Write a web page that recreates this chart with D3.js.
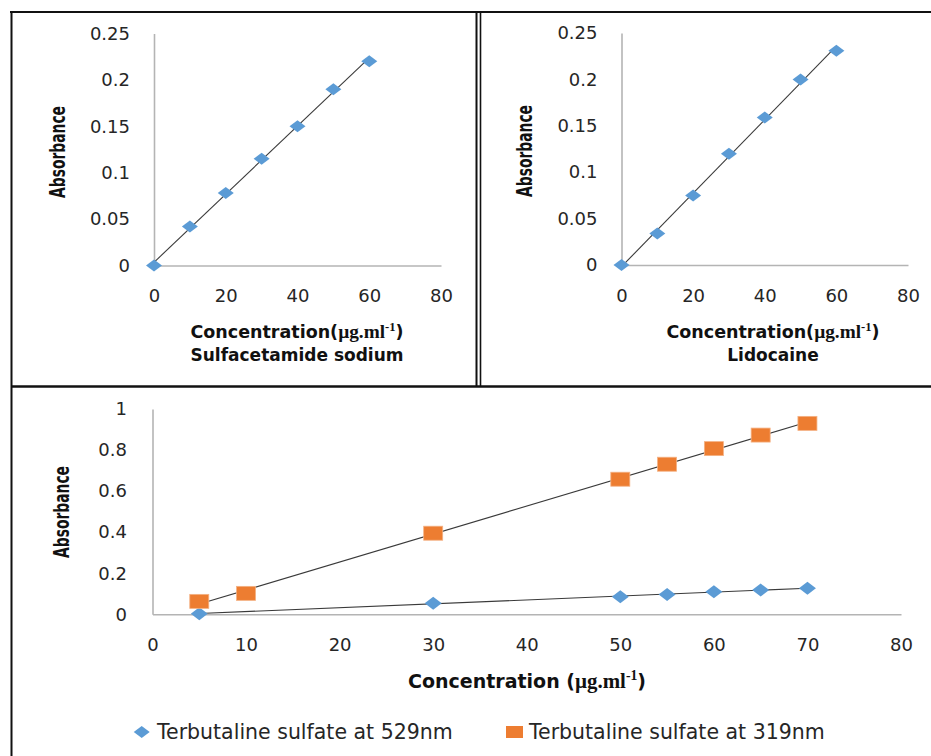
<!DOCTYPE html>
<html><head><meta charset="utf-8">
<script src="https://cdn.jsdelivr.net/npm/d3@7"></script>
<style>body{margin:0;background:#fff} svg{display:block}</style>
</head><body>
<script>
// ---- data ----
const saConc = [0, 10, 20, 30, 40, 50, 60];
const saAbs = [0, 0.042, 0.078, 0.115, 0.150, 0.190, 0.220];
const lidoConc = [0, 10, 20, 30, 40, 50, 60];
const lidoAbs = [0, 0.034, 0.075, 0.120, 0.159, 0.200, 0.231];
const terb529Conc = [5, 30, 50, 55, 60, 65, 70];
const terb529Abs = [0.003, 0.054, 0.086, 0.097, 0.110, 0.118, 0.127];
const terb319Conc = [5, 10, 30, 50, 55, 60, 65, 70];
const terb319Abs = [0.063, 0.102, 0.395, 0.658, 0.731, 0.807, 0.873, 0.930];
const topYTicks = [0, 0.05, 0.1, 0.15, 0.2, 0.25];
const topXTicks = [0, 20, 40, 60, 80];
const botYTicks = [0, 0.2, 0.4, 0.6, 0.8, 1];
const botXTicks = [0, 10, 20, 30, 40, 50, 60, 70, 80];
const panelTitles = ["Sulfacetamide sodium", "Lidocaine"];
const legendLabels = ["Terbutaline sulfate at 529nm", "Terbutaline sulfate at 319nm"];
const yTitle = "Absorbance";

const BLUE = "#5B9BD5", ORANGE = "#ED7D31", AXIS = "#B4B4B4", TEXT = "#262626";

const W = 931, H = 756;
const svg = d3.select("body").append("svg").attr("width", W).attr("height", H);
svg.append("rect").attr("width", W).attr("height", H).attr("fill", "#fff");

function regress(xs, ys) {
  const mx = d3.mean(xs), my = d3.mean(ys);
  let sxy = 0, sxx = 0;
  xs.forEach((x, i) => { sxy += (x - mx) * (ys[i] - my); sxx += (x - mx) * (x - mx); });
  const m = sxy / sxx;
  return { m, b: my - m * mx };
}

function diamond(g, x, y, xs, ys, w, h) {
  g.selectAll(null).data(xs).enter().append("path")
    .attr("d", (d, i) => {
      const cx = x(d), cy = y(ys[i]);
      return `M${cx - w / 2},${cy}L${cx},${cy - h / 2}L${cx + w / 2},${cy}L${cx},${cy + h / 2}Z`;
    })
    .attr("fill", BLUE);
}
function squares(g, x, y, xs, ys, w, h) {
  g.selectAll(null).data(xs).enter().append("rect")
    .attr("x", d => x(d) - w / 2).attr("y", (d, i) => y(ys[i]) - h / 2)
    .attr("width", w).attr("height", h)
    .attr("fill", ORANGE).attr("stroke", "#F4B183").attr("stroke-width", 0.8);
}
function trend(g, x, y, xs, ys) {
  const r = regress(xs, ys);
  const x0 = d3.min(xs), x1 = d3.max(xs);
  g.append("line")
    .attr("x1", x(x0)).attr("y1", y(r.m * x0 + r.b))
    .attr("x2", x(x1)).attr("y2", y(r.m * x1 + r.b))
    .attr("stroke", "#3a3a3a").attr("stroke-width", 1.1);
}
function axes(g, x, y, xt, yt, fs, padY, padX) {
  const ay = g.append("g").attr("transform", `translate(${x.range()[0]},0)`)
    .call(d3.axisLeft(y).tickValues(yt).tickFormat(d => String(d)).tickSize(0).tickPadding(padY));
  const ax = g.append("g").attr("transform", `translate(0,${y.range()[0]})`)
    .call(d3.axisBottom(x).tickValues(xt).tickFormat(d => String(d)).tickSize(0).tickPadding(padX));
  [ay, ax].forEach(a => {
    a.select(".domain").attr("stroke", AXIS).attr("stroke-width", 1.6);
    a.selectAll("text").attr("font-family", "DejaVu Sans, Verdana, sans-serif")
      .attr("font-size", fs).attr("fill", TEXT);
  });
}
function concTitle(g, cx, baseY, lead, fs) {
  const t = g.append("text").attr("x", cx).attr("y", baseY).attr("text-anchor", "middle")
    .attr("font-family", "DejaVu Sans, sans-serif").attr("font-weight", "bold")
    .attr("font-size", fs).attr("fill", "#111");
  t.append("tspan").text(lead);
  t.append("tspan").attr("font-family", "Liberation Serif, Times New Roman, serif").attr("font-size", fs * 1.1).text("µg.ml");
  t.append("tspan").attr("font-family", "Liberation Serif, Times New Roman, serif")
    .attr("font-size", fs * 0.72).attr("dy", -fs * 0.42).text("-1");
  t.append("tspan").attr("dy", fs * 0.42).text(")");
}
function yLabel(g, cx, cy, fs, len) {
  g.append("text").attr("transform", `translate(${cx},${cy}) rotate(-90)`)
    .attr("x", -len / 2).attr("dy", "0.35em")
    .attr("textLength", len).attr("lengthAdjust", "spacingAndGlyphs")
    .attr("font-family", "DejaVu Sans, sans-serif")
    .attr("font-weight", "bold").attr("font-size", fs).attr("fill", "#111").text(yTitle);
}

// ---- top-left: Sulfacetamide sodium ----
{
  const g = svg.append("g");
  const x = d3.scaleLinear().domain([0, 80]).range([154, 441]);
  const y = d3.scaleLinear().domain([0, 0.25]).range([265.5, 33.5]);
  axes(g, x, y, topXTicks, topYTicks, 18, 24, 24);
  trend(g, x, y, saConc, saAbs);
  diamond(g, x, y, saConc, saAbs, 16, 12);
  yLabel(g, 58, 152, 21, 92);
  concTitle(g, 297, 338, "Concentration(", 17.5);
  g.append("text").attr("x", 297).attr("y", 361).attr("text-anchor", "middle")
    .attr("font-family", "DejaVu Sans, sans-serif").attr("font-weight", "bold")
    .attr("font-size", 17).attr("fill", "#111").text(panelTitles[0]);
}
// ---- top-right: Lidocaine ----
{
  const g = svg.append("g");
  const x = d3.scaleLinear().domain([0, 80]).range([621.5, 908]);
  const y = d3.scaleLinear().domain([0, 0.25]).range([265, 33]);
  axes(g, x, y, topXTicks, topYTicks, 18, 24, 24);
  trend(g, x, y, lidoConc, lidoAbs);
  diamond(g, x, y, lidoConc, lidoAbs, 16, 12);
  yLabel(g, 525, 151, 21, 92);
  concTitle(g, 773, 338, "Concentration(", 17.5);
  g.append("text").attr("x", 773).attr("y", 361).attr("text-anchor", "middle")
    .attr("font-family", "DejaVu Sans, sans-serif").attr("font-weight", "bold")
    .attr("font-size", 17).attr("fill", "#111").text(panelTitles[1]);
}
// ---- bottom: Terbutaline ----
{
  const g = svg.append("g");
  const x = d3.scaleLinear().domain([0, 80]).range([152.5, 901]);
  const y = d3.scaleLinear().domain([0, 1]).range([614.3, 409]);
  axes(g, x, y, botXTicks, botYTicks, 18, 25.5, 24);
  trend(g, x, y, terb319Conc, terb319Abs);
  trend(g, x, y, terb529Conc, terb529Abs);
  diamond(g, x, y, terb529Conc, terb529Abs, 17, 13);
  squares(g, x, y, terb319Conc, terb319Abs, 19, 14);
  yLabel(g, 62, 512, 21, 92);
  concTitle(g, 527, 688, "Concentration (", 19);

  // legend
  const lg = g.append("g");
  const ly = 732;
  lg.append("path").attr("d", `M${141.7 - 8},${ly}L141.7,${ly - 6}L${141.7 + 8},${ly}L141.7,${ly + 6}Z`).attr("fill", BLUE);
  lg.append("rect").attr("x", 506).attr("y", ly - 6).attr("width", 17).attr("height", 12).attr("fill", ORANGE);
  [[157, legendLabels[0]], [529, legendLabels[1]]].forEach(([lx, txt]) => {
    lg.append("text").attr("x", lx).attr("y", 739)
      .attr("font-family", "DejaVu Sans, sans-serif").attr("font-size", 20.5)
      .attr("fill", TEXT).text(txt);
  });
}

// ---- frame lines ----
const frame = svg.append("g").attr("stroke", "#111").attr("fill", "none");
frame.append("line").attr("x1", 10).attr("y1", 12).attr("x2", W).attr("y2", 12).attr("stroke-width", 2);
frame.append("line").attr("x1", 11.5).attr("y1", 11).attr("x2", 11.5).attr("y2", H).attr("stroke-width", 2);
frame.append("line").attr("x1", 476.5).attr("y1", 12).attr("x2", 476.5).attr("y2", 387).attr("stroke-width", 2);
frame.append("line").attr("x1", 480.5).attr("y1", 12).attr("x2", 480.5).attr("y2", 387).attr("stroke-width", 1.6);
frame.append("line").attr("x1", 11).attr("y1", 386.5).attr("x2", W).attr("y2", 386.5).attr("stroke-width", 2.4);
</script>
</body></html>
